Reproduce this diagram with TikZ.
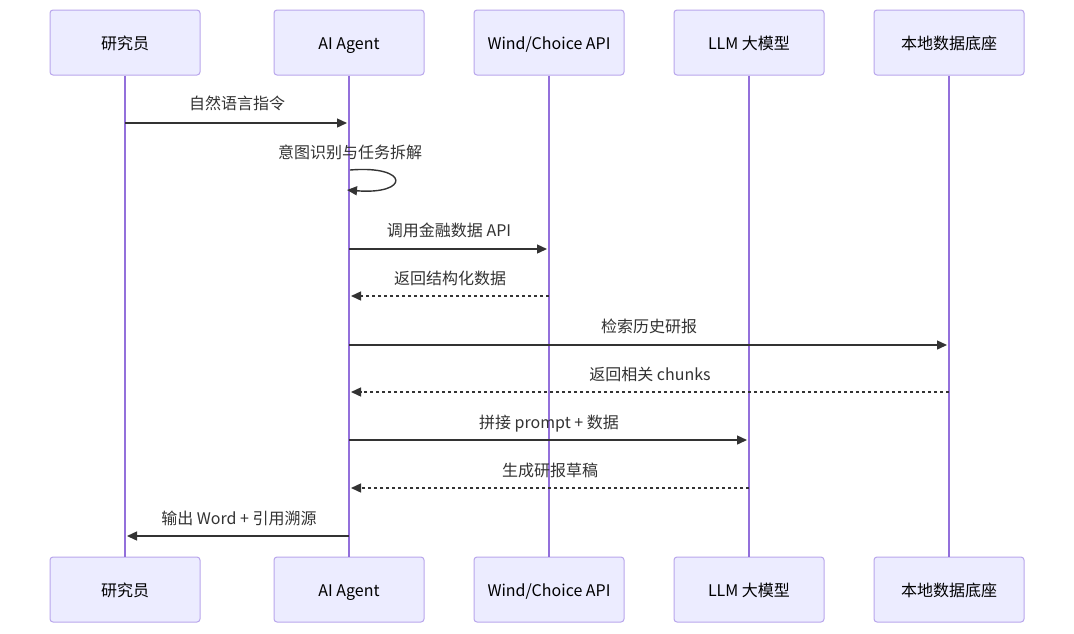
\documentclass[tikz,border=0pt]{standalone}
\usepackage{fontspec}
\setmainfont{Noto Sans CJK SC}
\usetikzlibrary{arrows.meta}
\definecolor{actfill}{HTML}{ECECFF}
\definecolor{actdraw}{HTML}{B9A6EC}
\definecolor{lifecol}{HTML}{9370DB}
\definecolor{msgcol}{HTML}{333333}
\begin{document}
\begin{tikzpicture}[x=1pt,y=-1pt,
  actor/.style={draw=actdraw,fill=actfill,line width=1pt,rounded corners=3pt,minimum width=150pt,minimum height=65pt,inner sep=0pt,font=\fontsize{16}{19}\selectfont,text=black,text height=14pt,text depth=1pt},
  life/.style={draw=lifecol,line width=1.6pt},
  msg/.style={draw=msgcol,line width=1.4pt,-{Triangle[length=10pt,width=9pt]}},
  ret/.style={msg,dash pattern=on 3pt off 3pt},
  lbl/.style={font=\fontsize{16}{19}\selectfont,text=msgcol,inner sep=0pt,text height=14pt,text depth=1pt}]
\fill[white] (0,0) rectangle (1074,633);
\useasboundingbox (0,0) rectangle (1074,633);
\foreach \i/\x/\t in {1/125/{研究员},2/349/{AI Agent},3/549/{Wind/Choice API},4/749/{LLM 大模型},5/949/{本地数据底座}}{
  \node[actor] (t\i) at (\x,42.5) {\t};
  \node[actor] (b\i) at (\x,589.5) {\t};
}
\foreach \i in {1,...,5}{\draw[life] (t\i.south) -- (b\i.north);}
% message endpoints
\coordinate (m1s) at (125,123); \coordinate (m1e) at (347,123);
\coordinate (m2s) at (350,170); \coordinate (m2e) at (347,190);
\coordinate (m3s) at (349,249); \coordinate (m3e) at (547,249);
\coordinate (m4s) at (549,296); \coordinate (m4e) at (351,296);
\coordinate (m5s) at (349,345); \coordinate (m5e) at (947,345);
\coordinate (m6s) at (949,392); \coordinate (m6e) at (351,392);
\coordinate (m7s) at (349,440); \coordinate (m7e) at (747,440);
\coordinate (m8s) at (749,488); \coordinate (m8e) at (351,488);
\coordinate (m9s) at (349,536); \coordinate (m9e) at (127,536);
\draw[msg] (m1s) -- (m1e);
\node[lbl] (l1) at (237,103) {自然语言指令};
\draw[msg] (m2s) .. controls (410,165) and (410,195) .. (m2e);
\node[lbl] (l2) at (350,152) {意图识别与任务拆解};
\draw[msg] (m3s) -- (m3e);
\node[lbl] (l3) at (449,230) {调用金融数据 API};
\draw[ret] (m4s) -- (m4e);
\node[lbl] (l4) at (450,278) {返回结构化数据};
\draw[msg] (m5s) -- (m5e);
\node[lbl] (l5) at (649,326) {检索历史研报};
\draw[ret] (m6s) -- (m6e);
\node[lbl] (l6) at (650,374) {返回相关 chunks};
\draw[msg] (m7s) -- (m7e);
\node[lbl] (l7) at (549,422) {拼接 prompt + 数据};
\draw[ret] (m8s) -- (m8e);
\node[lbl] (l8) at (550,470) {生成研报草稿};
\draw[msg] (m9s) -- (m9e);
\node[lbl] (l9) at (239,518) {输出 Word + 引用溯源};
\end{tikzpicture}
\end{document}
